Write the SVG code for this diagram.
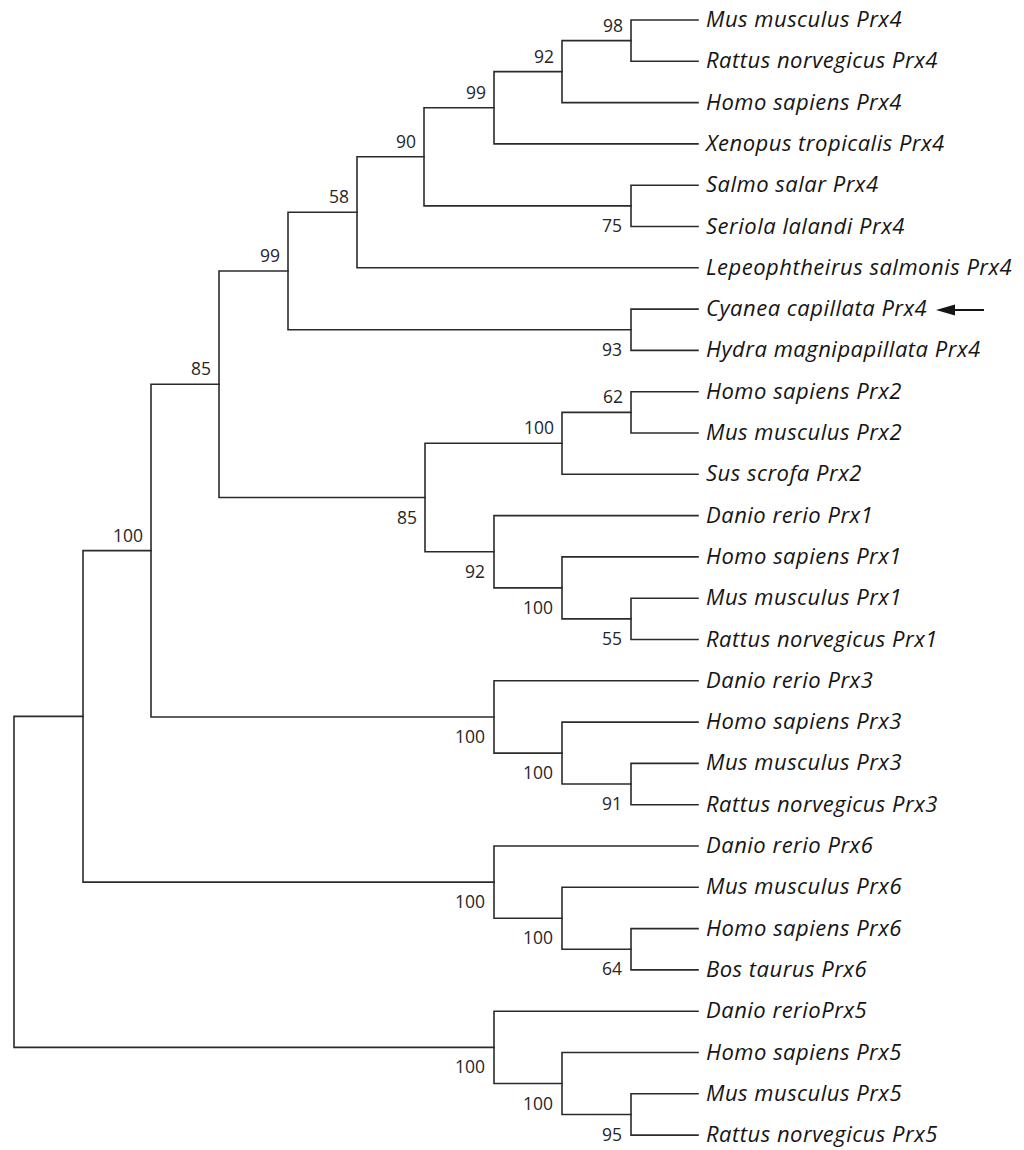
<svg xmlns="http://www.w3.org/2000/svg" width="1024" height="1150" viewBox="0 0 1024 1150">
<style>
.br{fill:none;stroke:#2b2b2b;stroke-width:1.6;stroke-linecap:square}
.lf{font-family:"Open Sans","Liberation Sans",sans-serif;font-style:italic;font-size:22px;letter-spacing:0.5px;fill:#151515}
.bs{font-family:"Open Sans","Liberation Sans",sans-serif;font-size:17.5px;fill:#262626;text-anchor:end}
</style>
<rect width="1024" height="1150" fill="#ffffff"/>
<g id="connectors">
<path class="br" d="M631,20 V61.3 M631,20 H698 M631,61.3 H698"/>
<path class="br" d="M562,40.65 V102.6 M562,40.65 H631 M562,102.6 H698"/>
<path class="br" d="M494,71.6 V143.9 M494,71.6 H562 M494,143.9 H698"/>
<path class="br" d="M631,185.2 V226.5 M631,185.2 H698 M631,226.5 H698"/>
<path class="br" d="M424,107.75 V205.85 M424,107.75 H494 M424,205.85 H631"/>
<path class="br" d="M357,156.8 V267.8 M357,156.8 H424 M357,267.8 H698"/>
<path class="br" d="M631,309.1 V350.4 M631,309.1 H698 M631,350.4 H698"/>
<path class="br" d="M288,212.3 V329.75 M288,212.3 H357 M288,329.75 H631"/>
<path class="br" d="M631,391.7 V433 M631,391.7 H698 M631,433 H698"/>
<path class="br" d="M562,412.35 V474.3 M562,412.35 H631 M562,474.3 H698"/>
<path class="br" d="M631,598.2 V639.5 M631,598.2 H698 M631,639.5 H698"/>
<path class="br" d="M562,556.9 V618.85 M562,556.9 H698 M562,618.85 H631"/>
<path class="br" d="M494,515.6 V587.9 M494,515.6 H698 M494,587.9 H562"/>
<path class="br" d="M425,443.3 V551.75 M425,443.3 H562 M425,551.75 H494"/>
<path class="br" d="M219,271 V497.5 M219,271 H288 M219,497.5 H425"/>
<path class="br" d="M631,763.4 V804.7 M631,763.4 H698 M631,804.7 H698"/>
<path class="br" d="M562,722.1 V784.05 M562,722.1 H698 M562,784.05 H631"/>
<path class="br" d="M494,680.8 V753.1 M494,680.8 H698 M494,753.1 H562"/>
<path class="br" d="M151,384.25 V716.95 M151,384.25 H219 M151,716.95 H494"/>
<path class="br" d="M631,928.6 V969.9 M631,928.6 H698 M631,969.9 H698"/>
<path class="br" d="M562,887.3 V949.25 M562,887.3 H698 M562,949.25 H631"/>
<path class="br" d="M494,846 V918.3 M494,846 H698 M494,918.3 H562"/>
<path class="br" d="M83,550.6 V882.15 M83,550.6 H151 M83,882.15 H494"/>
<path class="br" d="M631,1093.8 V1135.1 M631,1093.8 H698 M631,1135.1 H698"/>
<path class="br" d="M562,1052.5 V1114.45 M562,1052.5 H698 M562,1114.45 H631"/>
<path class="br" d="M494,1011.2 V1083.5 M494,1011.2 H698 M494,1083.5 H562"/>
<path class="br" d="M14,716.4 V1047.35 M14,716.4 H83 M14,1047.35 H494"/>
<path d="M950,310 H984" fill="none" stroke="#151515" stroke-width="2.2"/>
<polygon points="936,310 955,304.5 955,315.5" fill="#151515"/>
</g>
<g id="leaves">
<g id="leaf-mus-prx4"><text class="lf" x="706" y="27">Mus musculus Prx4</text></g>
<g id="leaf-rattus-prx4"><text class="lf" x="706" y="68.3">Rattus norvegicus Prx4</text></g>
<g id="leaf-homo-prx4"><text class="lf" x="706" y="109.6">Homo sapiens Prx4</text></g>
<g id="leaf-xenopus-prx4"><text class="lf" x="706" y="150.9">Xenopus tropicalis Prx4</text></g>
<g id="leaf-salmo-prx4"><text class="lf" x="706" y="192.2">Salmo salar Prx4</text></g>
<g id="leaf-seriola-prx4"><text class="lf" x="706" y="233.5">Seriola lalandi Prx4</text></g>
<g id="leaf-lepeo-prx4"><text class="lf" x="706" y="274.8">Lepeophtheirus salmonis Prx4</text></g>
<g id="leaf-cyanea-prx4"><text class="lf" x="706" y="316.1">Cyanea capillata Prx4</text></g>
<g id="leaf-hydra-prx4"><text class="lf" x="706" y="357.4">Hydra magnipapillata Prx4</text></g>
<g id="leaf-homo-prx2"><text class="lf" x="706" y="398.7">Homo sapiens Prx2</text></g>
<g id="leaf-mus-prx2"><text class="lf" x="706" y="440">Mus musculus Prx2</text></g>
<g id="leaf-sus-prx2"><text class="lf" x="706" y="481.3">Sus scrofa Prx2</text></g>
<g id="leaf-danio-prx1"><text class="lf" x="706" y="522.6">Danio rerio Prx1</text></g>
<g id="leaf-homo-prx1"><text class="lf" x="706" y="563.9">Homo sapiens Prx1</text></g>
<g id="leaf-mus-prx1"><text class="lf" x="706" y="605.2">Mus musculus Prx1</text></g>
<g id="leaf-rattus-prx1"><text class="lf" x="706" y="646.5">Rattus norvegicus Prx1</text></g>
<g id="leaf-danio-prx3"><text class="lf" x="706" y="687.8">Danio rerio Prx3</text></g>
<g id="leaf-homo-prx3"><text class="lf" x="706" y="729.1">Homo sapiens Prx3</text></g>
<g id="leaf-mus-prx3"><text class="lf" x="706" y="770.4">Mus musculus Prx3</text></g>
<g id="leaf-rattus-prx3"><text class="lf" x="706" y="811.7">Rattus norvegicus Prx3</text></g>
<g id="leaf-danio-prx6"><text class="lf" x="706" y="853">Danio rerio Prx6</text></g>
<g id="leaf-mus-prx6"><text class="lf" x="706" y="894.3">Mus musculus Prx6</text></g>
<g id="leaf-homo-prx6"><text class="lf" x="706" y="935.6">Homo sapiens Prx6</text></g>
<g id="leaf-bos-prx6"><text class="lf" x="706" y="976.9">Bos taurus Prx6</text></g>
<g id="leaf-danio-prx5"><text class="lf" x="706" y="1018.2">Danio rerioPrx5</text></g>
<g id="leaf-homo-prx5"><text class="lf" x="706" y="1059.5">Homo sapiens Prx5</text></g>
<g id="leaf-mus-prx5"><text class="lf" x="706" y="1100.8">Mus musculus Prx5</text></g>
<g id="leaf-rattus-prx5"><text class="lf" x="706" y="1142.1">Rattus norvegicus Prx5</text></g>
</g>
<g id="internal-nodes">
<g id="n98"><text class="bs" x="623" y="31.6">98</text></g>
<g id="n92a"><text class="bs" x="554" y="62.6">92</text></g>
<g id="n99a"><text class="bs" x="486" y="98.8">99</text></g>
<g id="n90"><text class="bs" x="416" y="147.8">90</text></g>
<g id="n75"><text class="bs" x="622" y="231.9">75</text></g>
<g id="n58"><text class="bs" x="349" y="203.3">58</text></g>
<g id="n99b"><text class="bs" x="280" y="262">99</text></g>
<g id="n93"><text class="bs" x="622" y="355.8">93</text></g>
<g id="n62"><text class="bs" x="623" y="403.4">62</text></g>
<g id="n100a"><text class="bs" x="554" y="434.3">100</text></g>
<g id="n85b"><text class="bs" x="417" y="523.5">85</text></g>
<g id="n92b"><text class="bs" x="485" y="577.8">92</text></g>
<g id="n100b"><text class="bs" x="553" y="613.9">100</text></g>
<g id="n55"><text class="bs" x="622" y="644.9">55</text></g>
<g id="n85a"><text class="bs" x="211" y="375.3">85</text></g>
<g id="n100e"><text class="bs" x="143" y="541.6">100</text></g>
<g id="n100d"><text class="bs" x="485" y="743">100</text></g>
<g id="n100c"><text class="bs" x="553" y="779.1">100</text></g>
<g id="n91"><text class="bs" x="622" y="810">91</text></g>
<g id="n100g"><text class="bs" x="485" y="908.2">100</text></g>
<g id="n100f"><text class="bs" x="553" y="944.3">100</text></g>
<g id="n64"><text class="bs" x="622" y="975.3">64</text></g>
<g id="n100i"><text class="bs" x="485" y="1073.4">100</text></g>
<g id="n100h"><text class="bs" x="553" y="1109.5">100</text></g>
<g id="n95"><text class="bs" x="622" y="1140.5">95</text></g>
</g>
</svg>
